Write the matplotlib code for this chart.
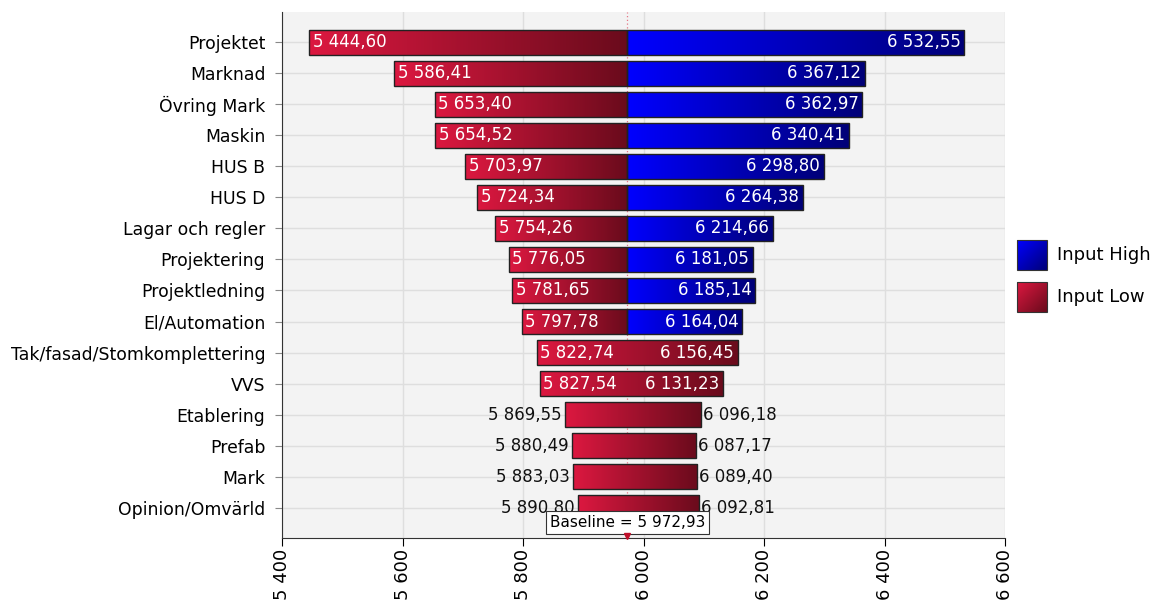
import numpy as np
import matplotlib.pyplot as plt
from matplotlib.colors import LinearSegmentedColormap
from matplotlib.patches import Rectangle
from matplotlib.ticker import FuncFormatter

# === Data ===
kategorier = ["Projektet", "Marknad", "Övring Mark", "Maskin", "HUS B", "HUS D",
              "Lagar och regler", "Projektering", "Projektledning", "El/Automation",
              "Tak/fasad/Stomkomplettering", "VVS", "Etablering", "Prefab", "Mark",
              "Opinion/Omvärld"]
lag = [5444.60, 5586.41, 5653.40, 5654.52, 5703.97, 5724.34, 5754.26, 5776.05,
       5781.65, 5797.78, 5822.74, 5827.54, 5869.55, 5880.49, 5883.03, 5890.80]
hog = [6532.55, 6367.12, 6362.97, 6340.41, 6298.80, 6264.38, 6214.66, 6181.05,
       6185.14, 6164.04, 6156.45, 6131.23, 6096.18, 6087.17, 6089.40, 6092.81]
# rader där hela stapeln ritas röd
helt_rod = [False] * 10 + [True] * 6
baseline = 5972.93
x_ticks = [5400, 5600, 5800, 6000, 6200, 6400, 6600]

def fmt(v):
    s = f"{v:,.2f}"
    return s.replace(",", " ").replace(".", ",")

rod_cmap = LinearSegmentedColormap.from_list("rod", ["#dc1840", "#6a0b1c"])
bla_cmap = LinearSegmentedColormap.from_list("bla", ["#0000ff", "#000078"])
grad = np.linspace(0, 1, 256).reshape(1, -1)

fig = plt.figure(figsize=(11.62, 6.05), dpi=100)
ax = fig.add_axes([0.2427, 0.111, 0.6222, 0.869])
ax.set_facecolor("#f3f3f3")

h = 0.8

def gradient_bar(x0, x1, y, cmap):
    ax.imshow(grad, cmap=cmap, aspect="auto", extent=[x0, x1, y + h / 2, y - h / 2],
              zorder=2, interpolation="bilinear")
    ax.add_patch(Rectangle((x0, y - h / 2), x1 - x0, h, fill=False,
                           edgecolor="#222222", lw=1.0, zorder=3))

for i, (lo, hi, rod) in enumerate(zip(lag, hog, helt_rod)):
    if rod:
        gradient_bar(lo, hi, i, rod_cmap)
    else:
        gradient_bar(lo, baseline, i, rod_cmap)
        gradient_bar(baseline, hi, i, bla_cmap)
    inne = (hi - lo) > 300
    if inne:
        ax.text(lo + 6, i, fmt(lo), color="white", ha="left", va="center",
                fontsize=12, zorder=4)
        ax.text(hi - 6, i, fmt(hi), color="white", ha="right", va="center",
                fontsize=12, zorder=4)
    else:
        ax.text(lo - 5, i, fmt(lo), color="#111111", ha="right", va="center",
                fontsize=12, zorder=4)
        ax.text(hi + 3, i, fmt(hi), color="#111111", ha="left", va="center",
                fontsize=12, zorder=4)

ax.axvline(baseline, color="#e57585", lw=0.9, ls=(0, (1, 2)), zorder=1)
ax.text(baseline, 15.47, f"Baseline = {fmt(baseline)}", ha="center", va="center",
        fontsize=11, zorder=5,
        bbox=dict(boxstyle="square,pad=0.25", fc="white", ec="#333333", lw=0.8))
ax.plot([baseline], [15.9], marker="v", color="#c0102a", markersize=4, zorder=5,
        clip_on=False)

ax.set_xlim(5400, 6600)
ax.set_ylim(15.97, -0.97)
ax.set_xticks(x_ticks)
ax.xaxis.set_major_formatter(FuncFormatter(lambda v, p: f"{int(v):,}".replace(",", " ")))
ax.tick_params(axis="x", labelrotation=90, labelsize=13, length=6, pad=2)
ax.set_yticks(range(len(kategorier)))
ax.set_yticklabels(kategorier, fontsize=12.4)
ax.tick_params(axis="y", length=5, color="#888888", pad=7)
ax.grid(True, color="#dedede", lw=1, zorder=0)
ax.set_axisbelow(True)
for s in ["top", "right"]:
    ax.spines[s].set_visible(False)
ax.spines["left"].set_color("#333333")
ax.spines["bottom"].set_color("#333333")

# legend (in pixel-like units)
leg = fig.add_axes([1010 / 1162, 1 - 320 / 605, 152 / 1162, 90 / 605])
leg.set_xlim(0, 152)
leg.set_ylim(90, 0)
leg.axis("off")
g2 = np.linspace(0, 1, 64)
g2 = (g2[None, :] + g2[:, None]) / 2
for y0, cmap, txt in [(10, bla_cmap, "Input High"), (52, rod_cmap, "Input Low")]:
    leg.imshow(g2, cmap=cmap, extent=[7, 37, y0 + 30, y0], aspect="auto")
    leg.add_patch(Rectangle((7, y0), 30, 30, fill=False, ec="#333333", lw=0.8))
    leg.text(47, y0 + 15, txt, va="center", ha="left", fontsize=13)

fig.savefig("out.png", dpi=100)
